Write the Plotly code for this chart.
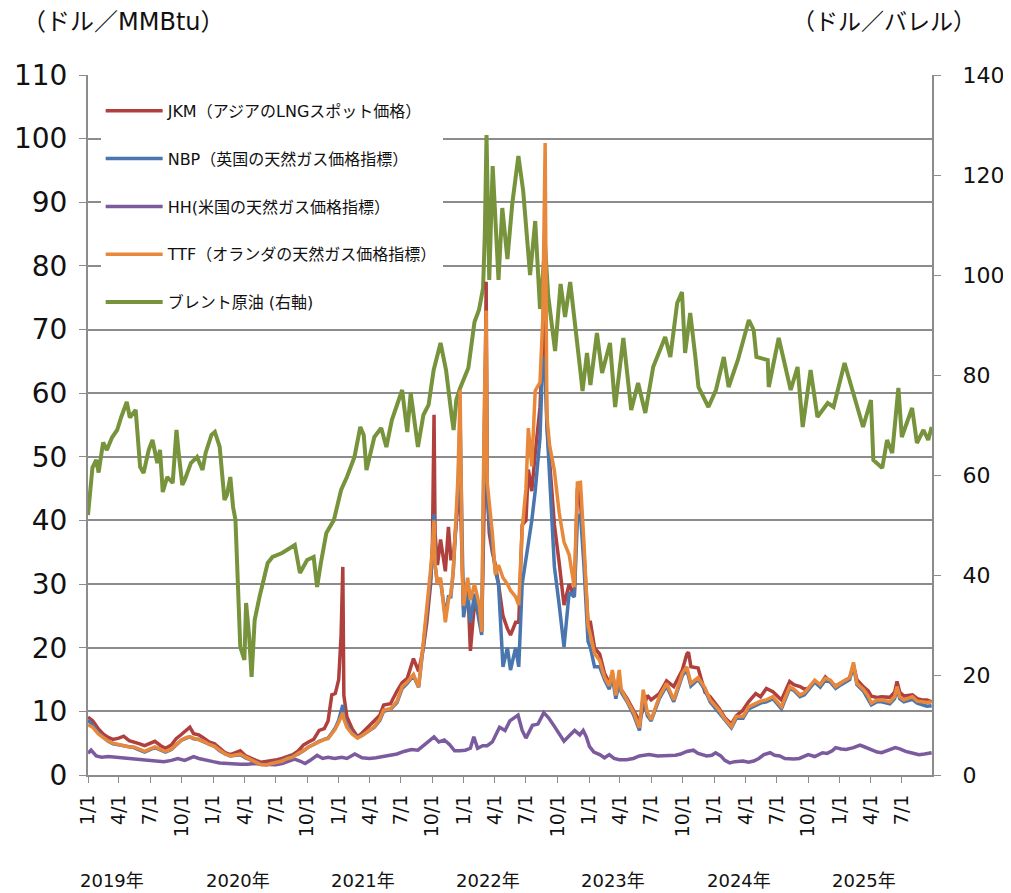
import pandas as pd
import plotly.graph_objects as go

# ---- data (USD/MMBtu for gas, USD/bbl for Brent) ----
gas_dates = [
    "2019-01-01", "2019-01-15", "2019-02-01", "2019-02-15", "2019-03-01", "2019-03-15", "2019-04-01", "2019-04-15",
    "2019-05-01", "2019-05-15", "2019-06-01", "2019-06-15", "2019-07-01", "2019-07-15", "2019-08-01", "2019-08-15",
    "2019-09-01", "2019-09-15", "2019-10-01", "2019-10-15", "2019-10-25", "2019-11-05", "2019-11-20", "2019-12-05",
    "2019-12-20", "2020-01-05", "2020-01-20", "2020-02-05", "2020-02-20", "2020-03-05", "2020-03-20", "2020-04-05",
    "2020-04-20", "2020-05-05", "2020-05-20", "2020-06-05", "2020-06-20", "2020-07-05", "2020-07-20", "2020-08-05",
    "2020-08-20", "2020-09-05", "2020-09-20", "2020-10-05", "2020-10-20", "2020-11-05", "2020-11-20", "2020-12-01",
    "2020-12-12", "2020-12-22", "2021-01-01", "2021-01-08", "2021-01-13", "2021-01-16", "2021-01-25", "2021-02-10",
    "2021-02-25", "2021-03-10", "2021-04-01", "2021-04-15", "2021-05-01", "2021-05-12", "2021-06-01", "2021-06-20",
    "2021-07-05", "2021-07-20", "2021-08-07", "2021-08-22", "2021-09-05", "2021-09-15", "2021-09-26", "2021-10-01",
    "2021-10-06", "2021-10-09", "2021-10-16", "2021-10-25", "2021-11-08", "2021-11-17", "2021-11-24", "2021-12-01",
    "2021-12-10", "2021-12-15", "2021-12-21", "2021-12-27", "2021-12-31", "2022-01-07", "2022-01-12", "2022-01-20",
    "2022-02-01", "2022-02-15", "2022-02-22", "2022-03-01", "2022-03-04", "2022-03-07", "2022-03-10", "2022-03-16",
    "2022-03-25", "2022-04-03", "2022-04-12", "2022-04-25", "2022-05-08", "2022-05-17", "2022-06-01", "2022-06-10",
    "2022-06-20", "2022-07-01", "2022-07-08", "2022-07-18", "2022-07-28", "2022-08-11", "2022-08-19", "2022-08-26",
    "2022-08-31", "2022-09-08", "2022-09-22", "2022-10-06", "2022-10-20", "2022-11-04", "2022-11-19", "2022-11-28",
    "2022-12-07", "2022-12-17", "2022-12-29", "2023-01-05", "2023-01-17", "2023-02-01", "2023-02-15", "2023-03-01",
    "2023-03-10", "2023-03-20", "2023-03-30", "2023-04-05", "2023-04-22", "2023-05-12", "2023-05-28", "2023-06-08",
    "2023-06-20", "2023-07-01", "2023-07-25", "2023-08-15", "2023-09-05", "2023-09-30", "2023-10-13", "2023-10-18",
    "2023-10-25", "2023-11-15", "2023-12-05", "2023-12-20", "2024-01-15", "2024-02-01", "2024-02-20", "2024-03-05",
    "2024-03-25", "2024-04-10", "2024-05-01", "2024-05-15", "2024-06-01", "2024-06-20", "2024-07-15", "2024-08-08",
    "2024-08-20", "2024-09-07", "2024-09-20", "2024-10-01", "2024-10-20", "2024-11-05", "2024-11-20", "2024-12-05",
    "2024-12-20", "2025-01-05", "2025-01-18", "2025-01-30", "2025-02-10", "2025-02-20", "2025-03-12", "2025-03-25",
    "2025-04-03", "2025-04-20", "2025-05-03", "2025-05-27", "2025-06-10", "2025-06-17", "2025-06-25", "2025-07-07",
    "2025-08-01", "2025-08-15", "2025-08-30", "2025-09-12", "2025-09-26",
]

jkm = [
    9.1, 8.5, 7.2, 6.4, 5.9, 5.6, 5.8, 6.1, 5.4, 5.2, 4.9, 4.6, 4.9, 5.3, 4.6, 4.2,
    4.7, 5.7, 6.4, 7.0, 7.5, 6.5, 6.3, 5.8, 5.2, 4.9, 4.2, 3.5, 3.2, 3.5, 3.8, 3.0,
    2.6, 2.3, 2.0, 2.1, 2.3, 2.4, 2.6, 2.9, 3.2, 3.8, 4.7, 5.2, 5.6, 7.0, 7.3, 8.5,
    12.6, 12.8, 15.0, 22.0, 32.7, 12.5, 9.1, 7.2, 6.0, 6.6, 7.8, 8.5, 9.4, 11.0, 11.2, 13.2,
    14.5, 15.2, 18.3, 16.3, 20.0, 24.0, 30.0, 35.0, 56.6, 38.0, 33.0, 37.0, 32.0, 39.0, 34.0, 34.0,
    40.0, 43.0, 45.0, 35.0, 26.0, 28.0, 30.0, 19.5, 27.0, 25.0, 22.5, 42.0, 55.0, 77.5, 45.0, 38.0,
    35.0, 33.0, 30.0, 25.0, 23.0, 22.0, 24.0, 24.0, 39.3, 40.0, 48.0, 44.6, 50.5, 57.8, 67.7, 72.3,
    55.0, 49.8, 39.3, 33.3, 26.7, 30.0, 28.0, 45.0, 43.0, 35.0, 24.0, 24.0, 20.0, 19.0, 16.0, 14.5,
    16.0, 13.0, 14.0, 13.4, 12.0, 10.0, 8.5, 10.5, 12.5, 11.8, 12.8, 14.8, 13.9, 16.5, 19.0, 19.3,
    17.0, 16.8, 13.0, 12.3, 10.5, 9.0, 8.0, 9.3, 10.2, 11.5, 12.8, 12.3, 13.6, 13.1, 11.8, 14.7,
    14.2, 13.9, 13.5, 13.6, 14.7, 14.2, 15.4, 14.6, 14.0, 14.5, 15.0, 15.3, 17.3, 15.0, 13.8, 13.2,
    12.4, 12.2, 12.3, 12.2, 13.0, 14.7, 13.0, 12.4, 12.6, 12.0, 11.8, 11.8, 11.5,
]

nbp = [
    8.6, 7.8, 6.6, 5.9, 5.3, 4.9, 4.7, 4.6, 4.4, 4.3, 3.9, 3.6, 4.0, 4.3, 3.9, 3.6,
    4.0, 4.7, 5.5, 5.8, 6.0, 5.7, 5.6, 5.2, 4.8, 4.5, 3.8, 3.3, 3.0, 3.1, 3.2, 2.7,
    2.4, 2.0, 1.7, 1.6, 1.9, 2.0, 2.3, 2.6, 2.9, 3.3, 3.8, 4.4, 4.8, 5.3, 5.6, 5.8,
    6.6, 7.4, 8.6, 9.8, 11.0, 9.2, 7.8, 6.5, 5.9, 6.2, 7.0, 7.5, 8.6, 10.0, 10.3, 11.4,
    13.6, 14.4, 15.6, 13.8, 20.5, 25.0, 31.0, 35.0, 41.0, 33.0, 30.0, 30.5, 25.0, 28.0, 28.0, 32.0,
    42.0, 45.0, 56.0, 31.0, 24.8, 27.0, 28.5, 24.0, 28.5, 24.0, 22.0, 52.0, 60.0, 70.0, 44.0, 40.0,
    36.0, 32.0, 30.0, 17.0, 20.0, 16.5, 20.0, 17.0, 30.0, 34.0, 36.6, 40.0, 44.6, 53.0, 65.7, 63.7,
    55.0, 46.5, 32.7, 26.7, 20.1, 28.7, 28.0, 40.0, 41.0, 33.0, 21.0, 20.0, 17.0, 17.0, 15.0, 13.5,
    15.5, 12.0, 14.5, 13.0, 11.5, 9.3, 7.0, 12.5, 9.3, 8.5, 12.0, 14.0, 11.5, 15.6, 16.5, 15.5,
    14.0, 15.0, 13.4, 11.5, 9.8, 8.6, 7.4, 8.9, 8.9, 10.4, 11.0, 11.3, 11.5, 12.0, 10.4, 13.6,
    13.3, 12.3, 12.6, 13.3, 14.6, 13.8, 14.9, 14.6, 13.6, 14.2, 14.6, 15.0, 17.2, 14.2, 13.1, 12.0,
    11.0, 11.5, 11.5, 11.2, 12.0, 13.6, 12.0, 11.5, 11.9, 11.3, 11.0, 10.8, 10.9,
]

ttf = [
    7.9, 7.5, 6.4, 5.8, 5.3, 5.0, 4.8, 4.7, 4.4, 4.4, 4.0, 3.7, 4.1, 4.4, 4.0, 3.7,
    4.1, 4.8, 5.5, 5.9, 6.0, 5.8, 5.6, 5.3, 4.8, 4.5, 3.9, 3.3, 3.0, 3.2, 3.3, 2.8,
    2.4, 2.0, 1.6, 1.6, 1.8, 2.0, 2.2, 2.6, 2.8, 3.4, 3.8, 4.4, 4.8, 5.3, 5.6, 5.7,
    6.5, 7.2, 8.3, 9.2, 9.8, 8.8, 7.5, 6.4, 5.8, 6.2, 7.0, 7.6, 8.8, 10.2, 10.4, 11.6,
    13.9, 14.6, 15.8, 13.8, 21.0, 26.0, 32.3, 35.5, 40.0, 33.0, 30.0, 31.0, 24.0, 27.5, 28.5, 32.0,
    43.0, 47.0, 60.5, 32.0, 26.6, 29.0, 31.0, 27.5, 30.0, 26.7, 22.5, 56.0, 62.0, 73.0, 46.0, 43.0,
    38.0, 31.5, 33.0, 31.0, 30.0, 29.0, 28.0, 26.7, 38.6, 45.0, 54.5, 48.5, 60.4, 61.7, 71.6, 99.3,
    56.4, 51.8, 47.8, 41.2, 36.6, 34.6, 29.5, 45.9, 46.0, 36.6, 23.5, 22.0, 19.1, 18.0, 15.4, 14.0,
    16.5, 12.5, 16.5, 13.4, 11.8, 9.7, 7.4, 13.4, 9.8, 8.7, 12.3, 14.4, 11.8, 16.0, 17.0, 16.0,
    14.4, 15.3, 13.7, 11.8, 10.2, 8.8, 7.6, 9.2, 9.2, 10.7, 11.3, 11.6, 11.8, 12.3, 10.7, 13.9,
    13.5, 12.6, 12.9, 13.6, 14.9, 14.2, 15.2, 14.9, 13.9, 14.5, 14.9, 15.3, 17.7, 14.4, 13.4, 12.4,
    11.3, 11.8, 11.8, 11.5, 12.3, 13.9, 12.3, 11.8, 12.3, 11.6, 11.5, 11.4, 11.5,
]

hh_dates = [
    "2019-01-01", "2019-01-10", "2019-01-25", "2019-02-10", "2019-03-01", "2019-03-20", "2019-04-10", "2019-05-01",
    "2019-05-20", "2019-06-10", "2019-07-01", "2019-07-20", "2019-08-10", "2019-09-01", "2019-09-20", "2019-10-10",
    "2019-11-05", "2019-11-20", "2019-12-10", "2020-01-01", "2020-01-20", "2020-02-10", "2020-03-01", "2020-03-20",
    "2020-04-10", "2020-05-01", "2020-05-20", "2020-06-10", "2020-07-01", "2020-07-20", "2020-08-10", "2020-08-25",
    "2020-09-10", "2020-09-25", "2020-10-10", "2020-10-30", "2020-11-15", "2020-12-01", "2020-12-20", "2021-01-10",
    "2021-01-25", "2021-02-17", "2021-03-10", "2021-04-01", "2021-04-20", "2021-05-10", "2021-06-01", "2021-06-20",
    "2021-07-10", "2021-08-01", "2021-08-20", "2021-09-10", "2021-09-25", "2021-10-06", "2021-10-20", "2021-11-05",
    "2021-11-20", "2021-12-05", "2021-12-20", "2022-01-05", "2022-01-20", "2022-01-30", "2022-02-10", "2022-02-25",
    "2022-03-10", "2022-03-25", "2022-04-15", "2022-05-01", "2022-05-15", "2022-06-08", "2022-06-20", "2022-07-01",
    "2022-07-20", "2022-08-05", "2022-08-22", "2022-09-05", "2022-09-20", "2022-10-05", "2022-10-20", "2022-11-05",
    "2022-11-20", "2022-12-05", "2022-12-15", "2022-12-24", "2023-01-02", "2023-01-15", "2023-02-01", "2023-02-15",
    "2023-03-01", "2023-03-15", "2023-03-30", "2023-04-20", "2023-05-10", "2023-05-28", "2023-06-25", "2023-07-20",
    "2023-08-15", "2023-09-10", "2023-09-25", "2023-10-13", "2023-11-01", "2023-11-15", "2023-12-10", "2023-12-25",
    "2024-01-05", "2024-01-20", "2024-02-01", "2024-02-15", "2024-03-01", "2024-03-25", "2024-04-10", "2024-04-25",
    "2024-05-10", "2024-05-25", "2024-06-12", "2024-06-25", "2024-07-10", "2024-07-25", "2024-08-20", "2024-09-05",
    "2024-10-01", "2024-10-20", "2024-11-12", "2024-11-25", "2024-12-10", "2024-12-20", "2025-01-05", "2025-01-20",
    "2025-02-10", "2025-03-01", "2025-03-15", "2025-04-03", "2025-04-20", "2025-05-03", "2025-05-20", "2025-06-12",
    "2025-06-25", "2025-07-12", "2025-07-28", "2025-08-20", "2025-09-05", "2025-09-26",
]

hh = [
    3.4, 3.9, 3.0, 2.8, 2.9, 2.8, 2.7, 2.6, 2.6, 2.4, 2.3, 2.3, 2.1, 2.3, 2.6, 2.3,
    2.9, 2.6, 2.3, 2.1, 1.9, 1.8, 1.8, 1.7, 1.7, 1.8, 1.7, 1.7, 1.6, 1.8, 2.2, 2.5,
    2.2, 1.8, 2.3, 3.1, 2.6, 2.8, 2.6, 2.8, 2.6, 3.3, 2.7, 2.6, 2.7, 2.9, 3.1, 3.3,
    3.7, 4.0, 3.9, 4.9, 5.6, 6.0, 5.2, 5.5, 4.8, 3.8, 3.8, 3.9, 4.2, 6.0, 4.2, 4.6,
    4.6, 5.2, 7.5, 7.0, 8.5, 9.4, 7.0, 5.8, 7.8, 8.0, 9.8, 9.0, 7.8, 6.5, 5.3, 6.2,
    7.0, 6.3, 7.0, 6.0, 4.5, 3.6, 3.2, 2.7, 3.2, 2.6, 2.4, 2.4, 2.6, 3.0, 3.2, 3.0,
    3.0, 3.1, 3.3, 3.7, 3.9, 3.4, 3.0, 3.1, 3.5, 3.0, 2.3, 1.9, 2.1, 2.2, 2.0, 2.2,
    2.6, 3.2, 3.5, 3.1, 3.0, 2.6, 2.5, 2.6, 3.2, 2.9, 3.5, 3.4, 3.8, 4.3, 4.1, 4.0,
    4.3, 4.7, 4.4, 4.0, 3.6, 3.5, 3.9, 4.3, 4.1, 3.7, 3.5, 3.2, 3.3, 3.5,
]

brent_dates = [
    "2019-01-01", "2019-01-08", "2019-01-14", "2019-01-25", "2019-02-01", "2019-02-14", "2019-02-25", "2019-03-12",
    "2019-03-27", "2019-04-08", "2019-04-24", "2019-05-03", "2019-05-20", "2019-06-02", "2019-06-12", "2019-06-27",
    "2019-07-08", "2019-07-22", "2019-07-30", "2019-08-07", "2019-08-20", "2019-09-05", "2019-09-16", "2019-09-23",
    "2019-10-03", "2019-10-10", "2019-10-28", "2019-11-15", "2019-12-01", "2019-12-10", "2019-12-27", "2020-01-06",
    "2020-01-20", "2020-02-03", "2020-02-10", "2020-02-20", "2020-02-28", "2020-03-06", "2020-03-13", "2020-03-20",
    "2020-04-01", "2020-04-06", "2020-04-15", "2020-04-22", "2020-05-01", "2020-05-15", "2020-06-08", "2020-06-22",
    "2020-07-20", "2020-08-26", "2020-09-10", "2020-10-01", "2020-10-20", "2020-10-30", "2020-11-10", "2020-11-26",
    "2020-12-18", "2021-01-08", "2021-01-25", "2021-02-16", "2021-03-05", "2021-03-15", "2021-03-23", "2021-04-15",
    "2021-05-05", "2021-05-20", "2021-06-05", "2021-06-20", "2021-07-05", "2021-07-20", "2021-07-30", "2021-08-20",
    "2021-09-05", "2021-09-20", "2021-10-05", "2021-10-25", "2021-11-10", "2021-11-26", "2021-12-02", "2021-12-10",
    "2021-12-20", "2022-01-14", "2022-02-01", "2022-02-14", "2022-02-26", "2022-03-03", "2022-03-08", "2022-03-16",
    "2022-03-26", "2022-04-12", "2022-04-23", "2022-05-08", "2022-05-22", "2022-06-09", "2022-06-23", "2022-07-13",
    "2022-07-28", "2022-08-11", "2022-08-26", "2022-09-04", "2022-09-24", "2022-10-10", "2022-10-23", "2022-11-07",
    "2022-11-27", "2022-12-08", "2022-12-13", "2022-12-26", "2023-01-05", "2023-01-24", "2023-02-08", "2023-03-03",
    "2023-03-18", "2023-04-11", "2023-05-04", "2023-05-24", "2023-06-14", "2023-07-07", "2023-08-11", "2023-08-26",
    "2023-09-15", "2023-09-29", "2023-10-08", "2023-10-23", "2023-11-07", "2023-11-16", "2023-12-15", "2024-01-06",
    "2024-01-29", "2024-02-12", "2024-03-10", "2024-03-27", "2024-04-11", "2024-04-25", "2024-05-03", "2024-06-05",
    "2024-06-08", "2024-07-07", "2024-07-22", "2024-08-11", "2024-08-31", "2024-09-15", "2024-10-08", "2024-10-28",
    "2024-11-27", "2024-12-14", "2025-01-15", "2025-02-08", "2025-03-10", "2025-04-02", "2025-04-09", "2025-05-05",
    "2025-05-19", "2025-06-03", "2025-06-21", "2025-07-01", "2025-07-31", "2025-08-14", "2025-09-02", "2025-09-16",
    "2025-09-26",
]

brent = [
    52.0, 57.5, 61.5, 63.0, 60.5, 66.5, 65.0, 67.5, 69.0, 71.6, 74.6, 71.5, 73.0, 61.6, 60.4, 65.0,
    67.0, 62.4, 65.0, 56.6, 59.6, 58.4, 69.0, 64.0, 58.0, 59.0, 62.4, 63.6, 61.0, 64.4, 68.0, 68.6,
    65.6, 55.0, 56.0, 59.6, 53.6, 51.0, 36.4, 25.6, 23.0, 34.4, 27.6, 19.6, 31.0, 35.6, 42.4, 43.6,
    44.4, 46.0, 40.4, 43.0, 43.6, 37.6, 42.4, 48.4, 51.0, 57.0, 59.6, 63.6, 69.6, 68.0, 61.0, 67.6,
    69.4, 65.6, 71.0, 74.0, 77.0, 68.6, 76.4, 65.6, 72.0, 74.0, 81.0, 86.4, 81.0, 72.0, 69.0, 75.0,
    77.2, 81.4, 90.6, 93.0, 97.4, 108.0, 128.0, 99.0, 121.8, 99.0, 113.4, 103.2, 114.2, 123.8, 116.8, 100.0,
    110.8, 93.2, 105.8, 95.8, 84.8, 98.2, 91.6, 98.6, 87.4, 80.0, 76.8, 84.4, 78.0, 88.4, 80.4, 86.4,
    73.6, 87.4, 73.0, 78.4, 72.4, 81.6, 87.6, 83.6, 94.4, 96.6, 84.4, 92.4, 83.6, 77.6, 73.6, 77.0,
    83.6, 77.6, 83.0, 87.6, 91.0, 89.0, 83.6, 83.0, 77.6, 87.4, 83.0, 77.0, 81.6, 69.6, 81.0, 71.6,
    74.4, 73.6, 82.4, 77.0, 69.6, 75.0, 63.0, 61.4, 67.0, 64.4, 77.4, 67.6, 73.4, 66.4, 69.0, 67.0,
    69.6,
]

year_labels = ["2019年", "2020年", "2021年", "2022年", "2023年", "2024年", "2025年"]

FONT = "DejaVu Sans, Noto Sans CJK JP, sans-serif"
GRID = "#8c8c8c"

fig = go.Figure()

# Brent on the primary (right) axis so the gas lines are drawn on top of it
fig.add_trace(go.Scatter(x=brent_dates, y=brent, mode="lines", name="ブレント原油 (右軸)",
                         line=dict(color="#77933c", width=4), yaxis="y",
                         legendgroup="brent", legendrank=5))

gas = [
    ("JKM（アジアのLNGスポット価格）", gas_dates, jkm, "#b0403d", 1),
    ("NBP（英国の天然ガス価格指標）", gas_dates, nbp, "#4a76b0", 2),
    ("HH(米国の天然ガス価格指標）", hh_dates, hh, "#7b5b9e", 3),
    ("TTF（オランダの天然ガス価格指標）", gas_dates, ttf, "#e8883a", 4),
]
for name, xs, ys, color, rank in gas:
    fig.add_trace(go.Scatter(x=xs, y=ys, mode="lines", name=name,
                             line=dict(color=color, width=3.5), yaxis="y2",
                             legendgroup=name, legendrank=rank))

quarters = pd.date_range("2019-01-01", "2025-07-01", freq="QS")

# the page body adds an 8px offset, so the figure is 8px smaller than the window
fig.update_layout(
    width=1003, height=885,
    margin=dict(l=80, r=79, t=67, b=118, autoexpand=False),
    paper_bgcolor="white", plot_bgcolor="white",
    font=dict(family=FONT, color="#111111"),
    showlegend=True,
    legend=dict(x=0.015, y=0.973, xanchor="left", yanchor="top",
                bgcolor="white", borderwidth=0, tracegroupgap=24,
                itemwidth=57, font=dict(size=16, family=FONT)),
    xaxis=dict(type="date", range=["2019-01-01", "2025-09-27"], automargin=False,
               tickvals=quarters, tickformat="%-m/%-d", tickangle=-90,
               tickfont=dict(size=19), ticks="outside", ticklen=6,
               tickcolor=GRID, showline=True, linecolor=GRID, linewidth=2,
               showgrid=False, zeroline=False, ticklabelstandoff=4),
    yaxis=dict(side="right", range=[0, 140], dtick=20, showgrid=False, automargin=False,
               zeroline=False, showline=True, linecolor=GRID, linewidth=2,
               ticks="outside", ticklen=7, tickcolor=GRID,
               tickfont=dict(size=22), ticklabelstandoff=17),
    yaxis2=dict(side="left", overlaying="y", range=[0, 110], dtick=10, automargin=False,
                showgrid=True, gridcolor=GRID, gridwidth=2, zeroline=False,
                showline=True, linecolor=GRID, linewidth=2,
                ticks="outside", ticklen=7, tickcolor=GRID,
                tickfont=dict(size=28), ticklabelstandoff=6),
)

# axis unit titles
fig.add_annotation(text="（ドル／MMBtu）", xref="paper", yref="paper", x=-0.0806, y=1.0757,
                   xanchor="left", yanchor="middle", showarrow=False, font=dict(size=24))
fig.add_annotation(text="（ドル／バレル）", xref="paper", yref="paper", x=1.0545, y=1.0757,
                   xanchor="right", yanchor="middle", showarrow=False, font=dict(size=23))

# year labels under the quarter ticks
for i, label in enumerate(year_labels):
    fig.add_annotation(text=label, x=f"{2019 + i}-03-12", xref="x", yref="paper", y=-0.1514,
                       xanchor="center", yanchor="middle", showarrow=False, font=dict(size=18))

fig.write_html("out.html")
